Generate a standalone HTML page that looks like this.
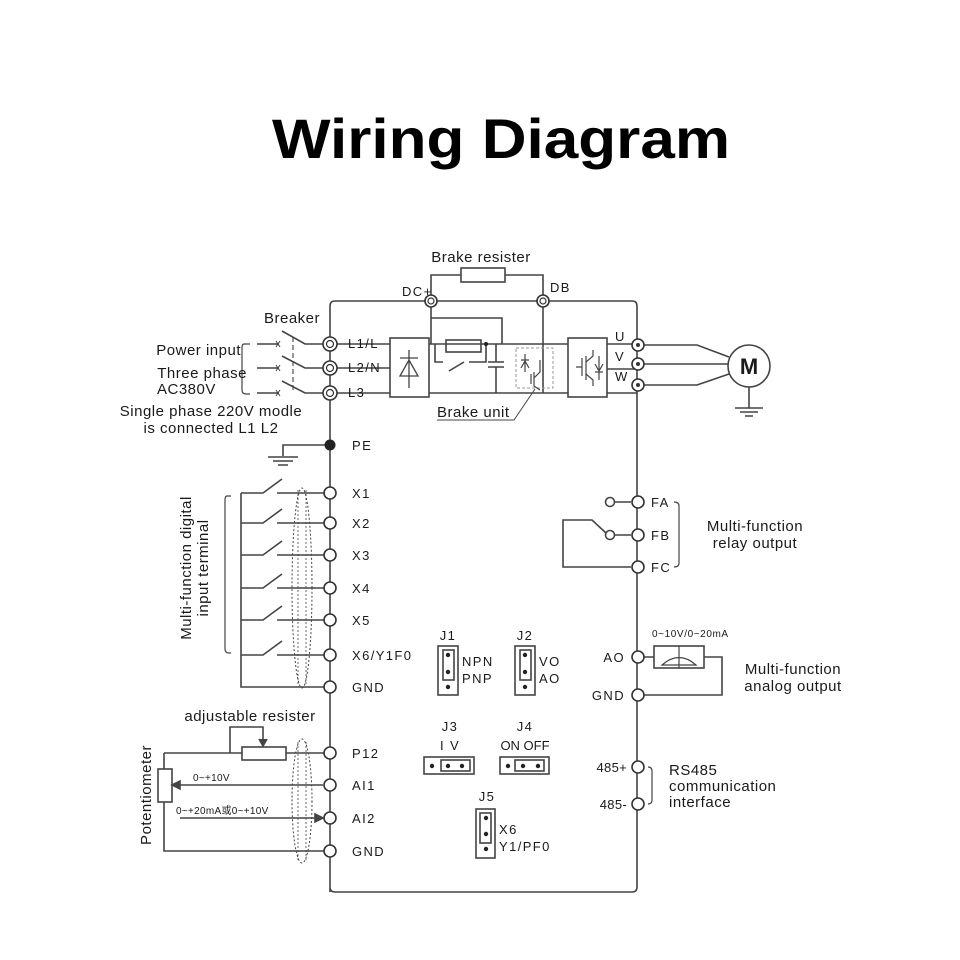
<!DOCTYPE html>
<html><head><meta charset="utf-8"><style>
html,body{margin:0;padding:0;background:#fff;width:960px;height:960px;overflow:hidden}
svg{display:block}
text{font-family:"Liberation Sans","Noto Sans CJK SC",sans-serif;fill:#1a1a1a}
.t{font-size:13px;letter-spacing:1.4px}
.d{font-size:15px;letter-spacing:0.5px}
</style></head><body>
<svg width="960" height="960" viewBox="0 0 960 960" xmlns="http://www.w3.org/2000/svg">
<text x="501" y="158" text-anchor="middle" style="font-size:56px;font-weight:bold;fill:#000" textLength="458" lengthAdjust="spacingAndGlyphs">Wiring Diagram</text>
<g stroke="#444" stroke-width="1.6" fill="none">
<path d="M330 892 V306 Q330 301 335 301 H632 Q637 301 637 306 V887 Q637 892 632 892 H335 Q330 892 330 887"/>
<path d="M431 301 V275 H461 M505 275 H543 V301"/>
<rect x="461" y="268" width="44" height="14"/>
<path d="M330 344 H390 M330 368 H390 M330 393 H390"/>
<rect x="390" y="338" width="39" height="59"/>
<path d="M429 344 H568 M429 393 H568"/>
<path d="M431 301 V344 M431 318 H502 V344"/>
<rect x="446" y="340" width="35" height="12"/>
<path d="M435 344 V362 H443 M469 362 H486 V344 M449 371 L464 362"/>
<path d="M496 344 V362 M488 362 H504 M488 367 H504 M496 367 V393"/>
<path d="M543 301 V393"/>
<rect x="516" y="348" width="37" height="40" stroke-dasharray="3 2" stroke="#999" stroke-width="1"/>
<path d="M437 420 H514 L535 389" stroke-width="1"/>
<rect x="568" y="338" width="39" height="59"/>
<path d="M607 344 H637 M607 369 H637 M607 393 H637"/>
<path d="M409 350 V388 M400 358 H418 M400 376 L409 360 L418 376 Z" stroke-width="1.3"/>
<path d="M525 354 V372 M521 360 H529 M521 368 L525 361 L529 368 M531 374 V384 M534 372 V386 L540 390 M534 378 L540 372 V360" stroke-width="1.2"/>
<path d="M576 367 H582 M582 358 V376 M586 356 V380 M586 362 L593 356 V350 M586 374 L593 380 V386 M599 356 V380 M595 372 H603 M595 364 L599 371 L603 364" stroke-width="1.2"/>
<path d="M637 345 H697 L729 357 M637 364 H728 M637 385 H697 L729 374"/>
<circle cx="749" cy="366" r="21"/>
<path d="M749 387 V408 M735 408 H763 M740 412 H758 M745 416 H753"/>
<path d="M250 344 H244 Q242 344 242 348 V390 Q242 394 246 394 H250" stroke-width="1.2"/>
<path d="M257 344 H279 M257 368 H279 M257 393 H279 M282 331 L305 344 H324 M282 356 L305 368 H324 M282 381 L305 393 H324"/>
<path d="M293 337 V390" stroke-dasharray="5 3" stroke-width="1.1"/>
<path d="M276 341 L280 347 M280 341 L276 347 M276 365 L280 371 M280 365 L276 371 M276 390 L280 396 M280 390 L276 396" stroke-width="1"/>
<path d="M330 445 H283 V456 M268 457 H298 M273 461 H293 M278 465 H288"/>
<path d="M241 493 V687 H324"/>
<path d="M241 493 H263 L282 479 M277 493 H324 M241 523 H263 L282 509 M277 523 H324 M241 555 H263 L282 541 M277 555 H324 M241 588 H263 L282 574 M277 588 H324 M241 620 H263 L282 606 M277 620 H324 M241 655 H263 L282 641 M277 655 H324"/>
<path d="M231 496 H227 Q225 496 225 500 V649 Q225 653 229 653 H231" stroke-width="1.2"/>
<ellipse cx="302" cy="588" rx="10" ry="100" stroke-dasharray="2 2" stroke-width="1"/>
<path d="M298 490 V686 M306 490 V686" stroke-dasharray="2 2" stroke-width="0.8"/>
<path d="M286 753 H324 M164 753 H242 M164 753 V769 M164 802 V851 H324 M230 753 V727 H263 V744"/>
<path d="M259 739 L263 746 L267 739" fill="#444"/>
<rect x="242" y="747" width="44" height="13"/>
<rect x="158" y="769" width="14" height="33"/>
<path d="M323 785 H178 M180 818 H316"/>
<path d="M172 785 L180 781 V789 Z M323 818 L315 814 V822 Z" fill="#444"/>
<ellipse cx="302" cy="801" rx="10" ry="62" stroke-dasharray="2 2" stroke-width="1"/>
<path d="M298 742 V860 M306 742 V860" stroke-dasharray="2 2" stroke-width="0.8"/>
<path d="M614 502 H631 M614 535 H631 M606 533 L592 520 H563 V567 H631"/>
<circle cx="610" cy="502" r="4.5"/><circle cx="610" cy="535" r="4.5"/>
<path d="M674 502 Q679 502 679 506 V563 Q679 567 674 567" stroke-width="1.2"/>
<path d="M644 657 H654 M704 657 H722 V695 H644"/>
<rect x="654" y="646" width="50" height="22"/>
<path d="M679 646 V668 M662 665 Q679 650 696 665 Z" stroke-width="1.2"/>
<path d="M648 767 Q652 767 652 771 V800 Q652 804 648 804" stroke-width="1.2"/>
<rect x="438" y="646" width="20" height="49"/><rect x="443" y="650" width="11" height="30"/>
<rect x="515" y="646" width="20" height="49"/><rect x="520" y="650" width="11" height="30"/>
<rect x="424" y="757" width="50" height="17"/><rect x="441" y="760" width="29" height="11"/>
<rect x="500" y="757" width="49" height="17"/><rect x="515" y="760" width="29" height="11"/>
<rect x="476" y="809" width="19" height="49"/><rect x="480" y="813" width="11" height="30"/>
</g>
<g fill="#222">
<circle cx="448" cy="655" r="2.2"/><circle cx="448" cy="672" r="2.2"/><circle cx="448" cy="687" r="2.2"/>
<circle cx="525" cy="655" r="2.2"/><circle cx="525" cy="672" r="2.2"/><circle cx="525" cy="687" r="2.2"/>
<circle cx="432" cy="766" r="2.2"/><circle cx="448" cy="766" r="2.2"/><circle cx="462" cy="766" r="2.2"/>
<circle cx="508" cy="766" r="2.2"/><circle cx="523" cy="766" r="2.2"/><circle cx="538" cy="766" r="2.2"/>
<circle cx="486" cy="818" r="2.2"/><circle cx="486" cy="834" r="2.2"/><circle cx="486" cy="849" r="2.2"/>
<circle cx="486" cy="344" r="2"/>
<circle cx="330" cy="445" r="5.5"/>
</g>
<g stroke="#333" stroke-width="1.6" fill="#fff">
<circle cx="431" cy="301" r="6"/><circle cx="543" cy="301" r="6"/>
<circle cx="330" cy="344" r="7"/><circle cx="330" cy="368" r="7"/><circle cx="330" cy="393" r="7"/>
<circle cx="638" cy="345" r="6"/><circle cx="638" cy="364" r="6"/><circle cx="638" cy="385" r="6"/>
<circle cx="330" cy="493" r="6"/><circle cx="330" cy="523" r="6"/><circle cx="330" cy="555" r="6"/><circle cx="330" cy="588" r="6"/><circle cx="330" cy="620" r="6"/><circle cx="330" cy="655" r="6"/><circle cx="330" cy="687" r="6"/>
<circle cx="330" cy="753" r="6"/><circle cx="330" cy="785" r="6"/><circle cx="330" cy="818" r="6"/><circle cx="330" cy="851" r="6"/>
<circle cx="638" cy="502" r="6"/><circle cx="638" cy="535" r="6"/><circle cx="638" cy="567" r="6"/>
<circle cx="638" cy="657" r="6"/><circle cx="638" cy="695" r="6"/>
<circle cx="638" cy="767" r="6"/><circle cx="638" cy="804" r="6"/>
</g>
<g fill="#333">
<circle cx="431" cy="301" r="3" fill="none" stroke="#333" stroke-width="1.2"/><circle cx="543" cy="301" r="3" fill="none" stroke="#333" stroke-width="1.2"/>
<circle cx="330" cy="344" r="3.5" fill="none" stroke="#333" stroke-width="1.2"/><circle cx="330" cy="368" r="3.5" fill="none" stroke="#333" stroke-width="1.2"/><circle cx="330" cy="393" r="3.5" fill="none" stroke="#333" stroke-width="1.2"/>
<circle cx="638" cy="345" r="2"/><circle cx="638" cy="364" r="2"/><circle cx="638" cy="385" r="2"/>
</g>
<text x="749" y="374" text-anchor="middle" style="font-size:22px;font-weight:bold">M</text>
<g class="t">
<text x="402" y="296">DC+</text><text x="550" y="292">DB</text>
<text x="348" y="348">L1/L</text><text x="348" y="372">L2/N</text><text x="348" y="397">L3</text>
<text x="615" y="341">U</text><text x="615" y="361">V</text><text x="615" y="381">W</text>
<text x="352" y="450">PE</text>
<text x="352" y="498">X1</text><text x="352" y="528">X2</text><text x="352" y="560">X3</text><text x="352" y="593">X4</text><text x="352" y="625">X5</text><text x="352" y="660">X6/Y1F0</text><text x="352" y="692">GND</text>
<text x="352" y="758">P12</text><text x="352" y="790">AI1</text><text x="352" y="823">AI2</text><text x="352" y="856">GND</text>
<text x="651" y="507">FA</text><text x="651" y="540">FB</text><text x="651" y="572">FC</text>
<text x="625" y="662" text-anchor="end">AO</text><text x="625" y="700" text-anchor="end">GND</text>
<text x="627" y="772" text-anchor="end" style="letter-spacing:0.3px">485+</text><text x="627" y="809" text-anchor="end" style="letter-spacing:0.3px">485-</text>
<text x="448" y="640" text-anchor="middle">J1</text><text x="525" y="640" text-anchor="middle">J2</text>
<text x="462" y="666">NPN</text><text x="462" y="683">PNP</text><text x="539" y="666">VO</text><text x="539" y="683">AO</text>
<text x="450" y="731" text-anchor="middle">J3</text><text x="525" y="731" text-anchor="middle">J4</text>
<text x="450" y="750" text-anchor="middle">I V</text><text x="525" y="750" text-anchor="middle" style="letter-spacing:0">ON OFF</text>
<text x="487" y="801" text-anchor="middle">J5</text>
<text x="499" y="834">X6</text><text x="499" y="851">Y1/PF0</text>
<text x="652" y="637" style="font-size:10px;letter-spacing:0.6px">0~10V/0~20mA</text>
<text x="193" y="781" style="font-size:10px;letter-spacing:0.3px">0~+10V</text>
<text x="176" y="814" style="font-size:10px;letter-spacing:0.3px">0~+20mA或0~+10V</text>
</g>
<g class="d">
<text x="481" y="262" text-anchor="middle">Brake resister</text>
<text x="292" y="323" text-anchor="middle">Breaker</text>
<text x="241" y="355" text-anchor="end">Power input</text>
<text x="247" y="378" text-anchor="end">Three phase</text>
<text x="157" y="394">AC380V</text>
<text x="211" y="416" text-anchor="middle">Single phase 220V modle</text>
<text x="211" y="433" text-anchor="middle">is connected L1 L2</text>
<text x="437" y="417">Brake unit</text>
<text x="755" y="531" text-anchor="middle">Multi-function</text>
<text x="755" y="548" text-anchor="middle">relay output</text>
<text x="793" y="674" text-anchor="middle">Multi-function</text>
<text x="793" y="691" text-anchor="middle">analog output</text>
<text x="669" y="775">RS485</text>
<text x="669" y="791">communication</text>
<text x="669" y="807">interface</text>
<text x="250" y="721" text-anchor="middle">adjustable resister</text>
<text transform="translate(151 795) rotate(-90)" text-anchor="middle">Potentiometer</text>
<text transform="translate(191 568) rotate(-90)" text-anchor="middle">Multi-function digital</text>
<text transform="translate(208 568) rotate(-90)" text-anchor="middle">input terminal</text>
</g>
</svg>
</body></html>
